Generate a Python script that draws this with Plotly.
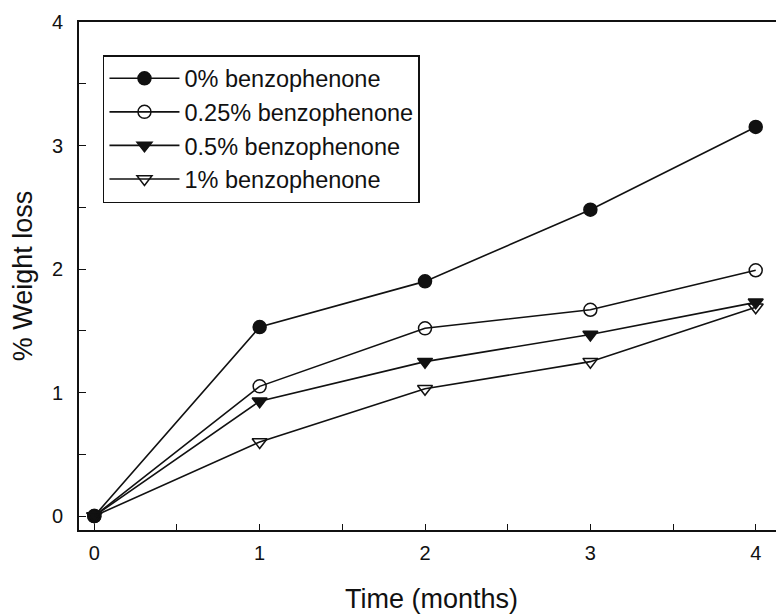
import plotly.graph_objects as go

months = [0, 1, 2, 3, 4]
series_names = ["0% benzophenone", "0.25% benzophenone", "0.5% benzophenone", "1% benzophenone"]
loss_0 = [0.0, 1.53, 1.90, 2.48, 3.15]
loss_025 = [0.0, 1.05, 1.52, 1.67, 1.99]
loss_05 = [0.0, 0.93, 1.25, 1.47, 1.73]
loss_1 = [0.0, 0.60, 1.03, 1.25, 1.69]
x_ticks = [0, 1, 2, 3, 4]
y_ticks = [0, 1, 2, 3, 4]

styles = [
    dict(symbol="circle", color="#111111"),
    dict(symbol="circle-open", color="#111111"),
    dict(symbol="triangle-down", color="#111111"),
    dict(symbol="triangle-down-open", color="#111111"),
]

fig = go.Figure()
for name, vals, st in zip(series_names, [loss_0, loss_025, loss_05, loss_1], styles):
    fig.add_trace(go.Scatter(
        x=months, y=vals, name=name, mode="lines+markers",
        line=dict(color="#111111", width=1.6),
        marker=dict(symbol=st["symbol"], size=13, color=st["color"],
                    line=dict(color="#111111", width=1.5)),
        cliponaxis=False,
    ))

font_family = "Liberation Sans, Arial, sans-serif"
# page body has an 8px margin, so the figure is sized to fill the rest of the window
fig.update_layout(
    width=776, height=607,
    margin=dict(l=71, r=0, t=14, b=85),
    paper_bgcolor="white", plot_bgcolor="white",
    font=dict(family=font_family, color="#111111"),
    showlegend=True,
    legend=dict(
        x=0.034, y=0.935, xanchor="left", yanchor="top",
        bordercolor="#111111", borderwidth=1.5, bgcolor="white",
        font=dict(size=23.5, family=font_family, color="#111111"),
        itemwidth=70, tracegroupgap=0,
    ),
    xaxis=dict(
        range=[-0.0925, 4.171], tickvals=x_ticks, ticktext=[str(v) for v in x_ticks],
        ticks="inside", ticklen=6, tickwidth=1.3, tickcolor="#111111",
        minor=dict(dtick=0.5, tick0=0, ticks="inside", ticklen=6, tickwidth=1.3, tickcolor="#111111"),
        showline=True, linecolor="#111111", linewidth=1.6, mirror=True,
        showgrid=False, zeroline=False, automargin=False,
        tickfont=dict(size=20), ticklabelstandoff=4,
        title=dict(text="Time (months)", font=dict(size=27), standoff=26),
    ),
    yaxis=dict(
        range=[-0.113, 4.0], tickvals=y_ticks, ticktext=[str(v) for v in y_ticks],
        ticks="inside", ticklen=7, tickwidth=1.3, tickcolor="#111111",
        minor=dict(dtick=0.5, tick0=0, ticks="inside", ticklen=7, tickwidth=1.3, tickcolor="#111111"),
        showline=True, linecolor="#111111", linewidth=1.6, mirror=False,
        showgrid=False, zeroline=False, automargin=False,
        tickfont=dict(size=20), ticklabelstandoff=10,
        title=dict(text="% Weight loss", font=dict(size=27), standoff=13),
    ),
)

fig.write_html("out.html")
